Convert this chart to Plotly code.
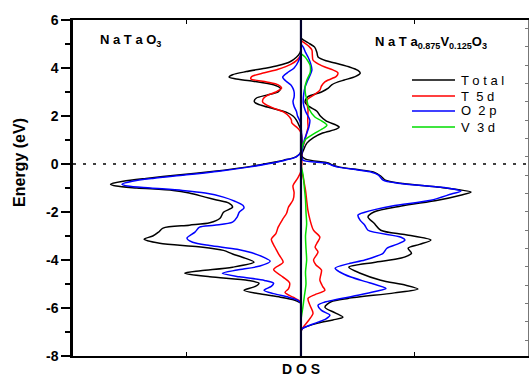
import plotly.graph_objects as go

# ---------------- data (energy in eV, DOS in arbitrary units) ----------------
# NaTaO3 (left half; DOS drawn toward the left)
lt_E = [4.75, 4.62, 4.45, 4.25, 4.1, 4.0, 3.85, 3.72, 3.62, 3.55, 3.45, 3.3, 3.15, 3.0, 2.87, 2.75, 2.62, 2.55, 2.45, 2.33, 2.16, 2.0, 1.83, 1.6, 1.4,
        0.5, 0.3, 0.16, 0.0, -0.13, -0.3, -0.46, -0.6, -0.72, -0.84, -0.92, -1.0, -1.1, -1.21, -1.38, -1.5, -1.63, -1.8, -2.01, -2.26, -2.45,
        -2.55, -2.67, -2.84, -3.0, -3.13, -3.3, -3.45, -3.6, -3.75, -3.92, -4.09, -4.3, -4.45, -4.55, -4.7, -4.85, -4.97, -5.1, -5.26, -5.4,
        -5.55, -5.67, -5.8]
lt_D = [0.0, 0.05, 0.2, 0.5, 1.0, 1.5, 2.4, 3.0, 3.15, 2.9, 2.1, 1.2, 0.9, 1.0, 1.5, 1.95, 2.05, 2.0, 1.75, 1.3, 0.65, 0.35, 0.2, 0.08, 0.0,
        0.0, 0.22, 0.75, 1.6, 2.4, 3.8, 5.4, 6.8, 7.8, 8.35, 8.1, 7.2, 5.6, 4.9, 4.2, 3.7, 3.16, 3.0, 3.4, 3.55, 4.0,
        4.9, 6.05, 6.25, 6.5, 6.88, 6.2, 4.5, 3.4, 3.0, 2.46, 2.06, 3.0, 4.4, 5.1, 4.0, 2.3, 1.84, 2.0, 2.5, 1.9,
        0.9, 0.3, 0.0]

lr_E = [4.55, 4.35, 4.15, 3.95, 3.8, 3.65, 3.55, 3.42, 3.3, 3.16, 3.0, 2.87, 2.72, 2.58, 2.45, 2.33, 2.16, 1.96, 1.83, 1.71, 1.5, 1.3,
        -0.3, -0.6, -0.9, -1.2, -1.5, -1.8, -2.05, -2.3, -2.63, -2.9, -3.13, -3.47, -3.8, -4.09, -4.4, -4.7, -4.95, -5.2, -5.35, -5.55, -5.7]
lr_D = [0.0, 0.15, 0.45, 1.0, 1.6, 2.15, 2.2, 1.5, 1.0, 0.85, 1.1, 1.45, 1.65, 1.68, 1.5, 1.2, 0.75, 0.5, 0.42, 0.4, 0.15, 0.0,
        0.0, 0.15, 0.35, 0.3, 0.35, 0.55, 0.63, 0.8, 1.0, 1.1, 1.3, 1.14, 0.95, 0.78, 1.2, 0.8, 0.5, 0.55, 0.7, 0.35, 0.05]

lb_E = [4.6, 4.3, 4.0, 3.8, 3.62, 3.45, 3.3, 3.15, 3.0, 2.8, 2.6, 2.4, 2.2, 2.0, 1.8, 1.6,
        0.5, 0.3, 0.16, 0.0, -0.13, -0.3, -0.46, -0.6, -0.72, -0.84, -0.92, -1.0, -1.1, -1.21, -1.38, -1.55, -1.72, -1.84, -2.0, -2.21,
        -2.42, -2.55, -2.63, -2.84, -3.09, -3.26, -3.4, -3.55, -3.7, -3.9, -4.05, -4.25, -4.42, -4.55, -4.7, -4.85, -4.97, -5.1, -5.26,
        -5.4, -5.55, -5.67, -5.8]
lb_D = [0.0, 0.1, 0.3, 0.6, 0.8, 0.65, 0.45, 0.35, 0.3, 0.3, 0.35, 0.3, 0.2, 0.15, 0.05, 0.0,
        0.0, 0.2, 0.7, 1.5, 2.3, 3.6, 5.1, 6.5, 7.4, 7.85, 7.6, 6.6, 5.2, 4.2, 3.4, 2.9, 2.55, 2.5, 2.7, 2.8,
        3.0, 3.8, 4.45, 4.65, 5.0, 4.75, 4.0, 2.8, 2.15, 1.6, 1.35, 1.8, 2.8, 3.45, 2.7, 1.6, 1.2, 1.3, 1.62,
        1.2, 0.55, 0.15, 0.0]

# NaTa0.875V0.125O3 (right half)
rt_E = [5.25, 5.17, 5.0, 4.87, 4.65, 4.46, 4.3, 4.21, 4.05, 3.9, 3.79, 3.65, 3.5, 3.42, 3.3, 3.16, 3.0, 2.8, 2.58, 2.4,
        2.2, 2.0, 1.8, 1.62, 1.54, 1.45, 1.29, 1.1, 0.87, 0.6, 0.35, 0.2, 0.04, -0.05, -0.13, -0.25, -0.34, -0.5, -0.67, -0.8,
        -0.95, -1.17, -1.3, -1.51, -1.75, -2.0, -2.21, -2.46, -2.76, -2.95, -3.17, -3.35, -3.51, -3.72, -3.92, -4.1, -4.3, -4.55,
        -4.84, -5.05, -5.21, -5.37, -5.6, -5.74, -5.97, -6.2, -6.38, -6.5, -6.63, -6.84, -6.95]
rt_D = [0.0, 0.1, 0.4, 0.6, 0.7, 0.75, 1.1, 1.5, 2.1, 2.5, 2.6, 2.4, 1.9, 1.63, 1.35, 1.2, 0.9, 0.3, 0.18, 0.35,
        0.7, 0.85, 1.1, 1.55, 1.68, 1.55, 0.95, 0.55, 0.26, 0.12, 0.03, 0.2, 1.2, 1.4, 1.7, 2.6, 3.2, 3.5, 3.7, 4.35,
        5.9, 7.46, 7.0, 6.0, 4.4, 3.2, 2.94, 3.2, 3.5, 4.6, 5.7, 5.2, 4.7, 4.85, 4.4, 3.2, 2.1, 2.6,
        3.5, 4.6, 5.13, 4.1, 2.06, 1.32, 1.05, 1.5, 1.84, 1.4, 0.75, 0.09, 0.0]

rr_E = [5.15, 5.08, 4.9, 4.75, 4.55, 4.33, 4.15, 4.04, 3.92, 3.8, 3.65, 3.5, 3.42, 3.25, 3.08, 2.9, 2.66, 2.45, 2.25, 2.0,
        1.75, 1.54, 1.3, 1.0, 0.7, 0.5, 0.2, -0.2, -0.67, -1.1, -1.51, -1.9, -2.34, -2.76, -3.05, -3.3, -3.47, -3.67, -4.0, -4.2,
        -4.42, -4.7, -4.84, -5.1, -5.26, -5.45, -5.6, -5.9, -6.22, -6.5, -6.8, -6.95]
rr_D = [0.0, 0.1, 0.35, 0.48, 0.5, 0.53, 0.8, 1.05, 1.4, 1.62, 1.55, 1.2, 1.05, 0.9, 0.83, 0.6, 0.26, 0.28, 0.31, 0.3,
        0.3, 0.31, 0.25, 0.18, 0.08, 0.02, 0.0, 0.02, 0.12, 0.2, 0.25, 0.3, 0.4, 0.55, 0.83, 0.7, 0.62, 0.75, 0.55, 0.65,
        0.9, 0.85, 0.83, 0.95, 1.05, 0.6, 0.31, 0.4, 0.53, 0.35, 0.1, 0.0]

rb_E = [5.0, 4.87, 4.65, 4.46, 4.2, 3.92, 3.7, 3.45, 3.21, 2.9, 2.54, 2.2, 1.83, 1.55, 1.29, 1.0, 0.7, 0.5, 0.3, 0.15,
        0.04, -0.05, -0.13, -0.25, -0.34, -0.46, -0.67, -0.8, -0.9, -1.0, -1.13, -1.25, -1.51, -1.75, -2.01, -2.13, -2.35, -2.55,
        -2.76, -3.05, -3.17, -3.35, -3.51, -3.72, -4.0, -4.15, -4.34, -4.5, -4.71, -4.95, -5.19, -5.3, -5.47, -5.75, -5.88, -6.1,
        -6.3, -6.45, -6.59, -6.75, -6.84, -6.95]
rb_D = [0.0, 0.1, 0.2, 0.31, 0.42, 0.48, 0.4, 0.28, 0.18, 0.12, 0.1, 0.2, 0.39, 0.35, 0.26, 0.15, 0.08, 0.04, 0.03, 0.1,
        1.1, 1.35, 1.62, 2.5, 3.1, 3.4, 3.6, 4.25, 5.3, 6.4, 7.02, 6.6, 5.7, 4.0, 2.8, 2.5, 2.6, 2.8,
        2.94, 4.39, 4.56, 4.2, 3.77, 3.6, 2.8, 2.1, 1.5, 1.7, 2.19, 3.0, 3.73, 3.3, 2.5, 1.05, 0.75, 0.9,
        1.27, 1.1, 0.75, 0.3, 0.09, 0.0]

rg_E = [4.6, 4.46, 4.3, 4.12, 3.95, 3.79, 3.5, 3.21, 2.9, 2.66, 2.3, 1.96, 1.8, 1.62, 1.5, 1.29, 1.1, 1.0, 0.7, 0.4,
        0.0, -0.5, -1.0, -1.5, -2.0, -2.5, -3.0, -3.5, -4.0, -4.5, -5.0, -5.5, -6.0, -6.3, -6.5]
rg_D = [0.0, 0.18, 0.3, 0.4, 0.42, 0.4, 0.26, 0.18, 0.2, 0.26, 0.35, 0.61, 0.9, 1.14, 1.0, 0.61, 0.3, 0.18, 0.05, 0.0,
        0.0, 0.1, 0.15, 0.2, 0.22, 0.25, 0.2, 0.22, 0.25, 0.2, 0.22, 0.15, 0.08, 0.03, 0.0]

y_ticks = [-8, -6, -4, -2, 0, 2, 4, 6]
y_ticktext = ["-8", "-6", "-4", "-2", "0", "2", "4", "6"]
legend_names = ["T o t a l", "T\u00a0\u00a05 d", "O\u00a0\u00a02 p", "V\u00a0\u00a03 d"]

BLACK, RED, BLUE, GREEN = "#000000", "#ff0000", "#0000ff", "#00dd00"
FONT = "Liberation Sans, Arial, sans-serif"

fig = go.Figure()


def add_curve(E, D, color, side):
    xs = [-d for d in D] if side == "left" else list(D)
    fig.add_trace(go.Scatter(x=xs, y=E, mode="lines",
                             line=dict(color=color, width=1.5, shape="spline", smoothing=0.8),
                             showlegend=False, hoverinfo="skip"))


add_curve(lt_E, lt_D, BLACK, "left")
add_curve(lr_E, lr_D, RED, "left")
add_curve(lb_E, lb_D, BLUE, "left")
add_curve(rt_E, rt_D, BLACK, "right")
add_curve(rr_E, rr_D, RED, "right")
add_curve(rb_E, rb_D, BLUE, "right")
add_curve(rg_E, rg_D, GREEN, "right")

# central zero-DOS line (on the overlay axis so it sits on top)
fig.add_trace(go.Scatter(x=[0, 0], y=[-8, 6], mode="lines", yaxis="y2",
                         line=dict(color="#00002a", width=2.2), showlegend=False, hoverinfo="skip"))

# Fermi level dotted line
fig.add_shape(type="line", xref="paper", yref="y", x0=0, x1=1, y0=0, y1=0,
              line=dict(color="black", width=1.6, dash="3px,7px"), layer="below")

# legend (drawn manually)
leg_colors = [BLACK, RED, BLUE, GREEN]
leg_y = [0.8214, 0.7738, 0.7292, 0.6815]
for name, c, yy in zip(legend_names, leg_colors, leg_y):
    fig.add_shape(type="line", xref="paper", yref="paper", x0=0.745, x1=0.8396, y0=yy, y1=yy,
                  line=dict(color=c, width=1.5))
    fig.add_annotation(text=name, xref="paper", yref="paper", x=0.848, y=yy, xanchor="left",
                       yanchor="middle", showarrow=False, font=dict(family=FONT, size=13, color="black"))

# panel labels
fig.add_annotation(text="N a T a O<sub>3</sub>", xref="paper", yref="paper", x=0.055, y=0.94,
                   xanchor="left", yanchor="middle", showarrow=False,
                   font=dict(family=FONT, size=13, color="black", weight="bold"))
fig.add_annotation(text="N a T a<sub>0.875</sub>V<sub>0.125</sub>O<sub>3</sub>", xref="paper", yref="paper",
                   x=0.659, y=0.934, xanchor="left", yanchor="middle", showarrow=False,
                   font=dict(family=FONT, size=13, color="black", weight="bold"))

# axis titles
fig.add_annotation(text="D O S", xref="x", yref="paper", x=0, y=-0.04, xanchor="center", yanchor="middle",
                   showarrow=False, font=dict(family=FONT, size=14, color="black", weight="bold"))
fig.add_annotation(text="Energy (eV)", xref="paper", yref="paper", x=-0.1176, y=0.576, textangle=-90,
                   xanchor="center", yanchor="middle", showarrow=False,
                   font=dict(family=FONT, size=16, color="black", weight="bold"))

fig.update_layout(
    width=529, height=378,
    margin=dict(l=73, r=1, t=20, b=22),
    paper_bgcolor="white", plot_bgcolor="white",
    showlegend=False,
    xaxis=dict(range=[-10, 9.96], showgrid=False, zeroline=False, showline=True, linecolor="black",
               linewidth=2, mirror="ticks", ticks="inside", ticklen=4, tickwidth=1, tickcolor="black",
               tickmode="array", tickvals=[-5, 5], showticklabels=False),
    yaxis=dict(range=[-8, 6], showgrid=False, zeroline=False, showline=True, linecolor="black",
               linewidth=2.5, ticks="outside", ticklen=9, tickwidth=2, tickcolor="black",
               tickmode="array", tickvals=y_ticks, ticktext=y_ticktext, ticklabelstandoff=0,
               tickfont=dict(family=FONT, size=14, color="black", weight="bold"),
               minor=dict(tickmode="linear", tick0=-7, dtick=2, ticks="outside", ticklen=5,
                          tickwidth=1.5, tickcolor="black")),
    yaxis2=dict(range=[-8, 6], overlaying="y", side="right", showgrid=False, zeroline=False,
                showline=True, linecolor="#777777", linewidth=1, ticks="inside", ticklen=3,
                tickcolor="#777777", tickmode="linear", tick0=-1.226, dtick=0.764,
                showticklabels=False),
)

fig.write_html("out.html")
